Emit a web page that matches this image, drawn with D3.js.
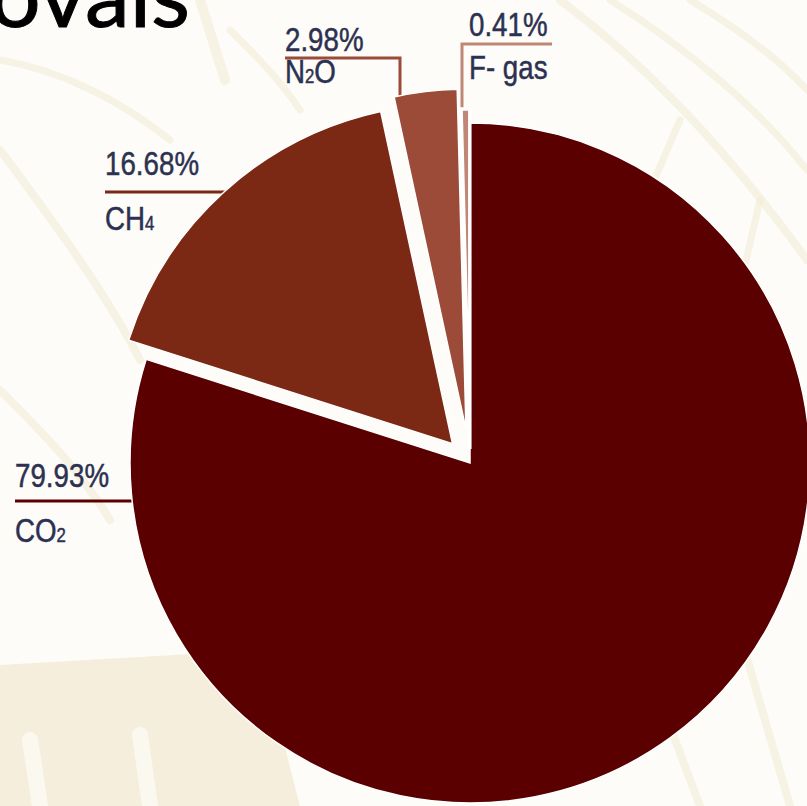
<!DOCTYPE html>
<html>
<head>
<meta charset="utf-8">
<script src="https://cdn.jsdelivr.net/npm/d3@7"></script>
<style>
  html, body { margin: 0; padding: 0; background: #fdfcf7; overflow: hidden; }
  svg { display: block; }
</style>
</head>
<body>
<div id="chart"></div>
<script>
// data
const categories = ["CO2", "CH4", "N2O", "F- gas"];
const values = [79.93, 16.68, 2.98, 0.41];
const pctLabels = values.map(v => d3.format(".2f")(v) + "%");

const width = 807;
const height = 806;
const cx = 470, cy = 463, radius = 340;

const colors = ["#5a0000", "#7b2914", "#9b4b38", "#c08777"];
const explode = [0, 26, 34, 14];

// where each label sits: text x, leader y, text offsets, elbow x for top labels
const labelLayout = [
  { side: "left", x: 15, y: 501, pctDy: -14, nameDy: 41 },
  { side: "left", x: 105, y: 192, pctDy: -17, nameDy: 38 },
  { side: "top", x: 285, y: 58, pctDy: -7, nameDy: 25, elbow: 400, end: 285 },
  { side: "top", x: 469, y: 44, pctDy: -8, nameDy: 35, elbow: 462, end: 552 }
];

const svg = d3.select("#chart").append("svg")
    .attr("width", width)
    .attr("height", height);

// faint ornamental background
const bg = svg.append("g").attr("fill", "none").attr("stroke-linecap", "round");
bg.append("rect").attr("width", width).attr("height", height).attr("fill", "#fdfcf8");
bg.append("path").attr("d", "M0,665 L260,650 L300,806 L0,806 Z").attr("fill", "#f5eedd").attr("stroke", "none");
bg.append("path").attr("d", "M40,806 L30,740 M150,806 L140,735").attr("stroke", "#fbf8f0").attr("stroke-width", 16);
[["M560,0 C640,60 720,140 807,260", 8], ["M610,0 C690,50 760,110 807,170", 7], ["M690,0 C740,30 780,60 807,90", 7],
 ["M680,120 L650,190", 7], ["M760,200 L730,330", 7], ["M0,150 C60,230 110,300 140,360", 8],
 ["M0,390 C40,430 80,470 110,520", 8], ["M200,0 L225,80", 10], ["M0,60 C60,70 120,100 170,140", 7],
 ["M660,700 L700,806", 8], ["M730,600 L790,806", 8], ["M230,30 C260,60 280,80 300,110", 7]]
  .forEach(([d, w]) => bg.append("path").attr("d", d).attr("stroke", "#f1e9d0").attr("stroke-width", w).attr("opacity", 0.5));

// title fragment cut off at the top
svg.append("text")
    .attr("x", 190)
    .attr("y", 27)
    .attr("text-anchor", "end")
    .attr("font-family", "Lato, 'Open Sans', sans-serif")
    .attr("font-size", 90)
    .attr("fill", "#000")
    .attr("stroke", "#000")
    .attr("stroke-width", 1)
    .text("Removals");

const pie = d3.pie().sort(null).value(d => d);
const arc = d3.arc().innerRadius(0).outerRadius(radius);
const slices = pie(values);

function offset(d, i) {
  const mid = (d.startAngle + d.endAngle) / 2;
  return [Math.sin(mid) * explode[i], -Math.cos(mid) * explode[i]];
}

const leaders = svg.append("g").attr("fill", "none").attr("stroke-width", 3);
const pieG = svg.append("g").attr("transform", "translate(" + cx + "," + cy + ")");

// leader lines, drawn under the slices so they end at the rim
slices.forEach((d, i) => {
  const L = labelLayout[i];
  const [ox, oy] = offset(d, i);
  let path;
  if (L.side === "left") {
    const dy = L.y - (cy + oy);
    const edgeX = cx + ox - Math.sqrt(radius * radius - dy * dy);
    path = "M" + L.x + "," + L.y + "H" + (edgeX + 6);
  } else {
    const dx = L.elbow - (cx + ox);
    const edgeY = cy + oy - Math.sqrt(radius * radius - dx * dx);
    path = "M" + L.end + "," + L.y + "H" + L.elbow + "V" + (edgeY + 6);
  }
  leaders.append("path").attr("d", path).attr("stroke", colors[i]);
});

pieG.selectAll("path.slice")
    .data(slices)
    .enter()
    .append("path")
    .attr("class", "slice")
    .attr("transform", (d, i) => "translate(" + offset(d, i) + ")")
    .attr("d", arc)
    .attr("fill", (d, i) => colors[i])
    .attr("stroke", "#fff")
    .attr("stroke-width", (d, i) => i === 3 ? 3.5 : 1.5)
    .attr("stroke-linejoin", "miter");

// labels: tall condensed type, squeezed horizontally
const labels = svg.append("g")
    .attr("font-family", "'Liberation Sans', Arial, sans-serif")
    .attr("font-size", 33)
    .attr("fill", "#2c3152")
    .attr("stroke", "#2c3152")
    .attr("stroke-width", 0.5);

function addText(x, y, str) {
  const t = labels.append("text")
      .attr("transform", "translate(" + x + "," + y + ") scale(0.84,1)");
  // digits inside gas names are drawn small, as in the picture
  str.split(/(\d)/).filter(s => s.length).forEach(part => {
    const sp = t.append("tspan").text(part);
    if (/^\d$/.test(part) && !/%/.test(str)) sp.attr("font-size", 20);
  });
}

slices.forEach((d, i) => {
  const L = labelLayout[i];
  addText(L.x, L.y + L.pctDy, pctLabels[i]);
  addText(L.x, L.y + L.nameDy, categories[i]);
});
</script>
</body>
</html>
